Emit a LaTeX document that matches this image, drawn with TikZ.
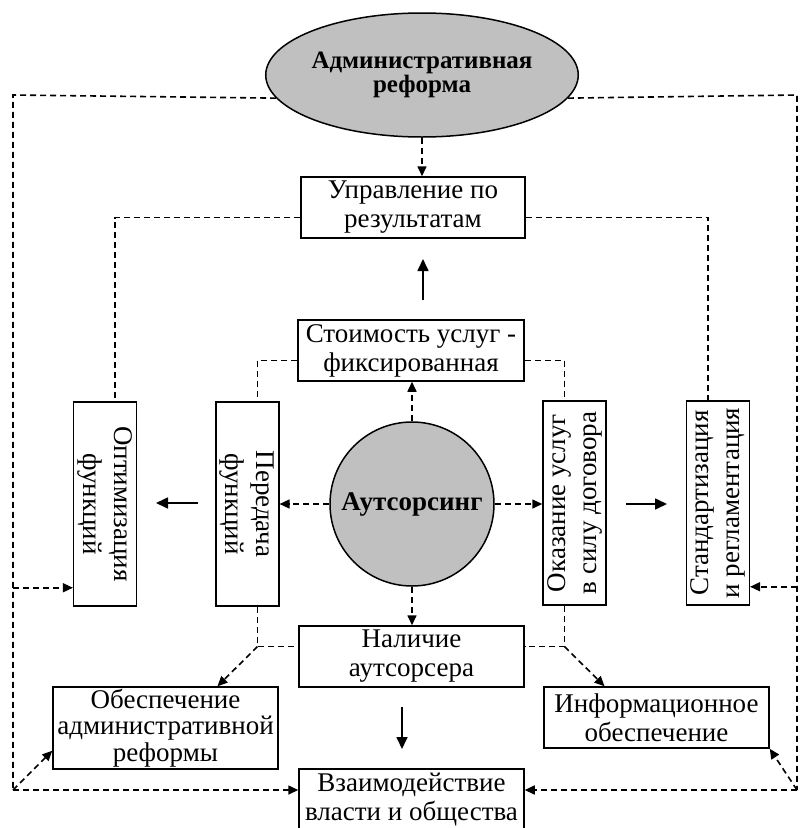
\documentclass[tikz,border=0pt]{standalone}
\usepackage{fontspec}
\setmainfont{Liberation Serif}
\usetikzlibrary{arrows.meta,shapes.geometric,calc}
\definecolor{fillgray}{RGB}{192,192,192}
\newcommand{\vtext}[3]{\rotatebox{#1}{\renewcommand{\arraystretch}{1.08}\begin{tabular}{@{}c@{}}#2\\#3\end{tabular}}}
\begin{document}
\begin{tikzpicture}[x=1pt,y=-1pt,
  box/.style={draw, line width=1.5pt, inner sep=0pt, align=center, font=\fontsize{27}{29}\selectfont},
  dl/.style={line width=1.6pt, dash pattern=on 6pt off 4pt},
  tipd/.style={-{Triangle[length=10pt,width=9pt]}},
  sarrow/.style={line width=1.7pt,-{Triangle[length=12pt,width=11pt]}}
]
\useasboundingbox (0,0) rectangle (800,828);
% nodes
\node[ellipse, draw, line width=1.5pt, fill=fillgray, minimum width=250pt, minimum height=124pt, inner sep=0pt, align=center, font=\fontsize{25}{24}\selectfont\bfseries] (ell) at (422,75) {Административная\\реформа};
\node[box, minimum width=224pt, minimum height=61pt] (upr) at (413,207.5) {Управление по\\результатам};
\node[box, minimum width=226pt, minimum height=61pt] (cost) at (411,350.5) {Стоимость услуг -\\фиксированная};
\node[circle, draw, line width=1.5pt, fill=fillgray, minimum size=164pt, inner sep=0pt, font=\fontsize{27}{29}\selectfont\bfseries] (circ) at (412,504) {Аутсорсинг};
\node[box, minimum width=62pt, minimum height=204pt] (opt) at (105,504) {\vtext{-90}{Оптимизация}{функций}};
\node[box, minimum width=61pt, minimum height=204pt] (per) at (247.5,504) {\vtext{-90}{Передача}{функций}};
\node[box, minimum width=63pt, minimum height=204pt] (oka) at (574.5,503) {\vtext{90}{Оказание услуг}{в силу договора}};
\node[box, minimum width=62pt, minimum height=204pt] (std) at (718,503) {\vtext{90}{Стандартизация}{и регламентация}};
\node[box, minimum width=225pt, minimum height=61pt] (nal) at (411.5,656.5) {Наличие\\аутсорсера};
\node[box, minimum width=225pt, minimum height=82pt, font=\fontsize{27}{26.5}\selectfont] (obe) at (165.5,728) {Обеспечение\\административной\\реформы};
\node[box, minimum width=225pt, minimum height=61pt] (inf) at (656.5,717.5) {Информационное\\обеспечение};
\node[box, minimum width=225pt, minimum height=61pt] (vza) at (411.5,799.5) {Взаимодействие\\власти и общества};
% frame coordinates
\coordinate (TL) at (13,95);
\coordinate (TR) at (797,95);
\coordinate (BL) at (13,790);
\coordinate (BR) at (797,790);
\coordinate (oa) at ([yshift=19pt]opt.south west);
\coordinate (sa) at ([yshift=19pt]std.south east);
\coordinate (ob) at ([yshift=19pt]obe.south west);
% outer frame
\draw[dl] (ell.189) -- (TL) -- (BL);
\draw[dl] (ell.-9) -- (TR) -- (BR);
\draw[dl,tipd] (TL |- oa) -- (oa);
\draw[dl,tipd] (TR |- sa) -- (sa);
\draw[dl,tipd] (BL) -- (BL -| vza.west);
\draw[dl,tipd] (BR) -- (BR -| vza.east);
\draw[dl,tipd] (BL) -- (ob);
\draw[dl,tipd] (BR) -- (inf.south east);
% ellipse to upr
\draw[dl,tipd] (ell.south) -- (ell.south |- upr.north);
% upr side lines
\coordinate (uL) at ([yshift=-10pt]upr.west);
\coordinate (uR) at ([yshift=-10pt]upr.east);
\coordinate (oT) at ([xshift=10pt]opt.north);
\coordinate (sT) at ([xshift=-10pt]std.north);
\draw[dl] (uL) -- (uL -| oT) -- (oT);
\draw[dl] (uR) -- (uR -| sT) -- (sT);
% cost side lines
\coordinate (cL) at ([yshift=-10pt]cost.west);
\coordinate (cR) at ([yshift=-10pt]cost.east);
\coordinate (pT) at ([xshift=10pt]per.north);
\coordinate (kT) at ([xshift=-10pt]oka.north);
\draw[dl] (cL) -- (cL -| pT) -- (pT);
\draw[dl] (cR) -- (cR -| kT) -- (kT);
% nal side lines
\coordinate (nL) at ([yshift=10pt]nal.west);
\coordinate (nR) at ([yshift=10pt]nal.east);
\coordinate (pB) at ([xshift=10pt]per.south);
\coordinate (kB) at ([xshift=-10pt]oka.south);
\coordinate (jL) at (pB |- nL);
\coordinate (jR) at (kB |- nR);
\draw[dl] (pB) -- (jL) -- (nL);
\draw[dl] (kB) -- (jR) -- (nR);
\draw[dl,tipd] (jL) -- ([xshift=52pt]obe.north);
\draw[dl,tipd] (jR) -- ([xshift=-52pt]inf.north);
% circle arrows
\draw[dl,tipd] (circ.north) -- (circ.north |- cost.south);
\draw[dl,tipd] (circ.west) -- (circ.west -| per.east);
\draw[dl,tipd] (circ.east) -- (circ.east -| oka.west);
\draw[dl,tipd] (circ.south) -- (circ.south |- nal.north);
% solid free arrows
\coordinate (a1s) at (423,300); \coordinate (a1e) at (423,259);
\coordinate (a2s) at (198,503); \coordinate (a2e) at (156,503);
\coordinate (a3s) at (626,504); \coordinate (a3e) at (667,504);
\coordinate (a4s) at (402,707); \coordinate (a4e) at (402,749);
\draw[sarrow] (a1s) -- (a1e);
\draw[sarrow] (a2s) -- (a2e);
\draw[sarrow] (a3s) -- (a3e);
\draw[sarrow] (a4s) -- (a4e);
\end{tikzpicture}
\end{document}
